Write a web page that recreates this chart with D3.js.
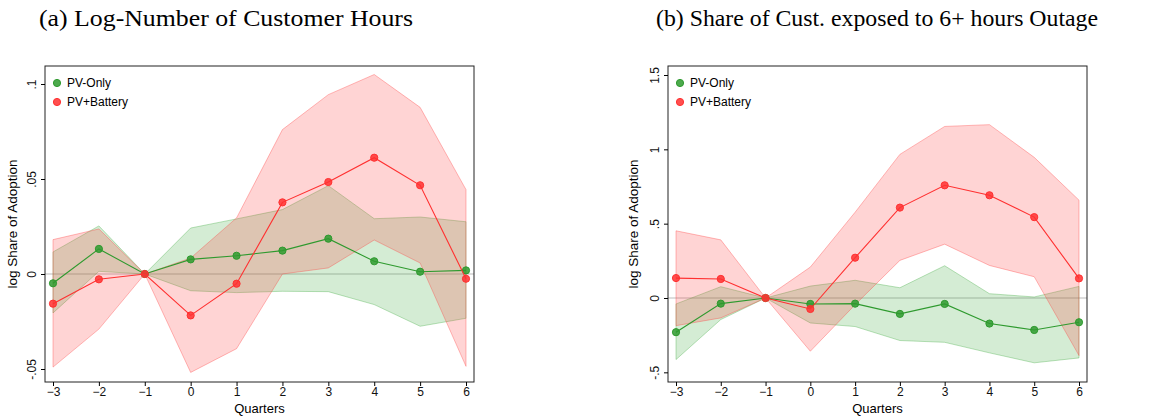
<!DOCTYPE html>
<html><head><meta charset="utf-8">
<script src="https://cdn.jsdelivr.net/npm/d3@7"></script>
<style>body{margin:0;background:#fff}</style>
</head><body>
<svg id="c" width="1165" height="419"></svg>
<script>
const quarters = [-3, -2, -1, 0, 1, 2, 3, 4, 5, 6];

// panel a
const aPvPt = [-0.0049, 0.0132, 0, 0.0077, 0.0096, 0.0123, 0.0186, 0.0067, 0.0012, 0.0019];
const aPvHi = [0.0116, 0.0253, 0, 0.0242, 0.029, 0.0339, 0.0465, 0.0291, 0.030, 0.0275];
const aPvLo = [-0.0205, 0.0014, 0, -0.0088, -0.0098, -0.0091, -0.0093, -0.0161, -0.0275, -0.0233];
const aBtPt = [-0.0156, -0.0028, 0, -0.0218, -0.0051, 0.0377, 0.0484, 0.0612, 0.0467, -0.0025];
const aBtHi = [0.0181, 0.0237, 0, 0.0084, 0.0295, 0.076, 0.0944, 0.105, 0.0877, 0.0444];
const aBtLo = [-0.049, -0.029, 0, -0.0518, -0.0393, 0, 0.0032, 0.0179, 0.0058, -0.0486];
const aTicks = [-0.05, 0, 0.05, 0.1];
const aTickLabels = ["-.05", "0", ".05", ".1"];

// panel b
const bPvPt = [-0.23, -0.038, 0, -0.04, -0.038, -0.107, -0.04, -0.172, -0.215, -0.163];
const bPvHi = [-0.04, 0.076, 0, 0.08, 0.119, 0.069, 0.217, 0.029, 0.007, 0.078];
const bPvLo = [-0.414, -0.145, 0, -0.168, -0.192, -0.286, -0.298, -0.369, -0.436, -0.403];
const bBtPt = [0.134, 0.128, 0, -0.074, 0.271, 0.608, 0.758, 0.691, 0.544, 0.132];
const bBtHi = [0.452, 0.391, 0, 0.208, 0.577, 0.966, 1.154, 1.166, 0.946, 0.658];
const bBtLo = [-0.186, -0.134, 0, -0.358, -0.045, 0.253, 0.362, 0.219, 0.143, -0.387];
const bTicks = [-0.5, 0, 0.5, 1, 1.5];
const bTickLabels = ["-.5", "0", ".5", "1", "1.5"];

const GREEN = "#2e9a2e", RED = "#ff3030";
const svg = d3.select("#c");

function panel(o) {
  const g = svg.append("g");
  const x = d3.scaleLinear().domain([-3, 6]).range([o.x0, o.x1]);
  const y = d3.scaleLinear().domain(o.ydom).range([o.yb, o.yt]);
  const fx = o.x0 - 8, fx2 = o.x1 + 8;

  g.append("text").attr("x", o.tx).attr("y", 26).attr("text-anchor", "middle")
    .attr("font-family", "Liberation Serif, serif").attr("font-size", 23)
    .attr("textLength", o.tw).attr("lengthAdjust", "spacingAndGlyphs").text(o.title);

  g.append("line").attr("x1", fx).attr("x2", fx2).attr("y1", y(0)).attr("y2", y(0))
    .attr("stroke", "#bbb").attr("stroke-width", 1);

  const series = [
    {pt: o.pv, hi: o.pvHi, lo: o.pvLo, c: GREEN, fill: "rgba(60,170,60,0.22)", stroke: "rgba(60,170,60,0.35)"},
    {pt: o.bt, hi: o.btHi, lo: o.btLo, c: RED, fill: "rgba(255,60,60,0.22)", stroke: "rgba(255,60,60,0.35)"}
  ];
  series.forEach(s => {
    const area = d3.area().x((d, i) => x(quarters[i])).y0((d, i) => y(s.lo[i])).y1(d => y(d));
    g.append("path").attr("d", area(s.hi)).attr("fill", s.fill).attr("stroke", s.stroke);
  });
  series.forEach(s => {
    const line = d3.line().x((d, i) => x(quarters[i])).y(d => y(d));
    g.append("path").attr("d", line(s.pt)).attr("fill", "none").attr("stroke", s.c).attr("stroke-width", 1.1);
    g.selectAll(null).data(s.pt).enter().append("circle")
      .attr("cx", (d, i) => x(quarters[i])).attr("cy", d => y(d)).attr("r", 3.6)
      .attr("fill", s.c).attr("fill-opacity", 0.85).attr("stroke", s.c);
  });

  g.append("rect").attr("x", fx).attr("y", o.ft).attr("width", fx2 - fx).attr("height", o.fb - o.ft)
    .attr("fill", "none").attr("stroke", "#222").attr("stroke-width", 1);

  const xa = g.append("g").attr("transform", `translate(0,${o.fb})`)
    .call(d3.axisBottom(x).tickValues(quarters).tickSize(4).tickSizeOuter(0));
  xa.select(".domain").remove();
  xa.selectAll("text").attr("font-family", "Liberation Sans, Arial").attr("font-size", 12).attr("fill", "#111").attr("dy", "0.6em");
  const ya = g.append("g").attr("transform", `translate(${fx},0)`)
    .call(d3.axisLeft(y).tickValues(o.ticks).tickFormat((d, i) => o.labels[i]).tickSize(4).tickSizeOuter(0));
  ya.select(".domain").remove();
  ya.selectAll("text").attr("font-family", "Liberation Sans, Arial").attr("font-size", 12).attr("fill", "#111")
    .attr("dy", 0).attr("text-anchor", "middle")
    .each(function() { d3.select(this).attr("transform", `translate(-9,0) rotate(-90)`).attr("x", 0); });

  g.append("text").attr("x", (o.x0 + o.x1) / 2).attr("y", 413).attr("text-anchor", "middle")
    .attr("font-family", "Liberation Sans, Arial").attr("font-size", 13).text("Quarters");
  g.append("text").attr("transform", `translate(${o.ylx},${(o.ft + o.fb) / 2}) rotate(-90)`)
    .attr("text-anchor", "middle").attr("font-family", "Liberation Sans, Arial").attr("font-size", 13.5)
    .text("log Share of Adoption");

  [["PV-Only", GREEN], ["PV+Battery", RED]].forEach((l, i) => {
    g.append("circle").attr("cx", fx + 12).attr("cy", 83 + i * 19).attr("r", 3.6).attr("fill", l[1]).attr("fill-opacity", 0.85).attr("stroke", l[1]);
    g.append("text").attr("x", fx + 22).attr("y", 87 + i * 19).attr("font-family", "Liberation Sans, Arial")
      .attr("font-size", 12).text(l[0]);
  });
}

panel({x0: 53, x1: 466, yb: 274, yt: 84, ydom: [0, 0.1], ft: 66, fb: 382, tx: 226, tw: 374, ylx: 17,
  title: "(a) Log-Number of Customer Hours", pv: aPvPt, pvHi: aPvHi, pvLo: aPvLo, bt: aBtPt, btHi: aBtHi, btLo: aBtLo,
  ticks: aTicks, labels: aTickLabels});
panel({x0: 676, x1: 1079, yb: 298, yt: 75, ydom: [0, 1.5], ft: 66, fb: 382, tx: 877, tw: 442, ylx: 638,
  title: "(b) Share of Cust. exposed to 6+ hours Outage", pv: bPvPt, pvHi: bPvHi, pvLo: bPvLo, bt: bBtPt, btHi: bBtHi, btLo: bBtLo,
  ticks: bTicks, labels: bTickLabels});
</script>
</body></html>
